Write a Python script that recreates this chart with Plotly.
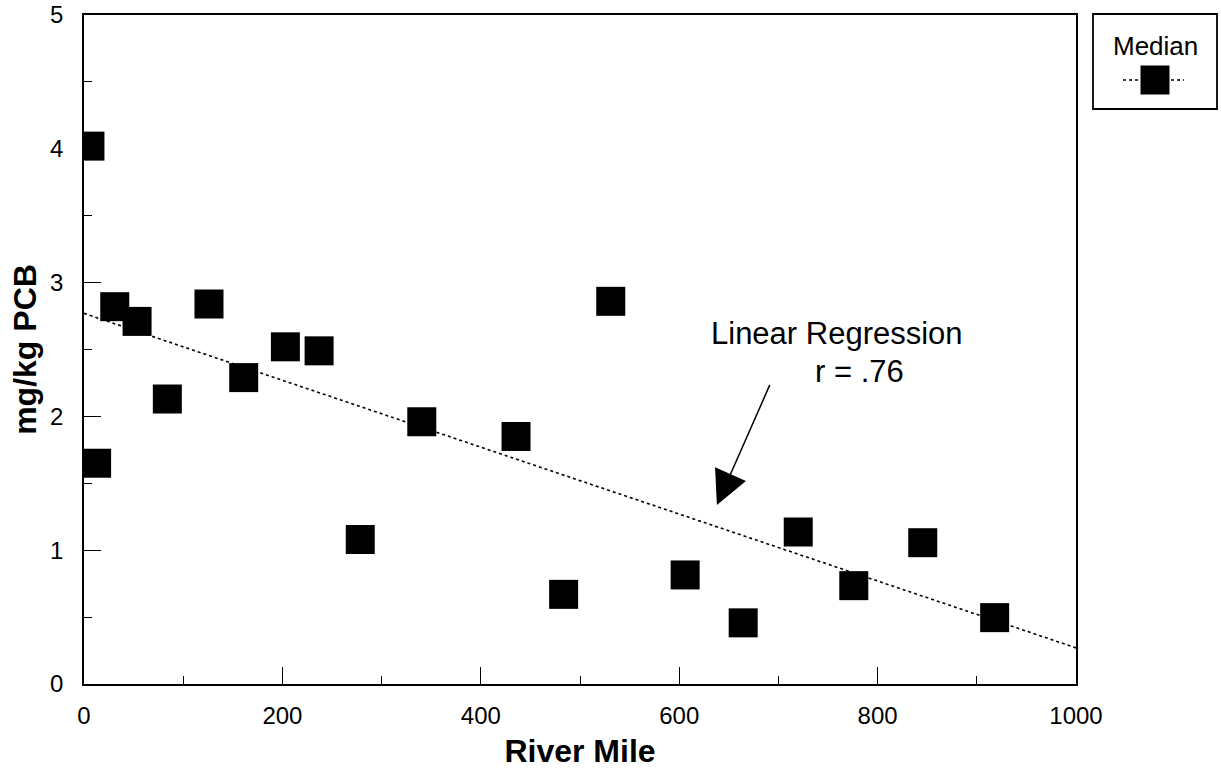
import plotly.graph_objects as go

# Median PCB concentration by river mile
river_mile = [6, 12.7, 31, 53.5, 84, 126, 161, 203, 237, 278.5, 340.5, 435.5,
              483.5, 531, 606, 664.5, 720, 776, 845.5, 918]
median_pcb = [4.02, 1.65, 2.82, 2.71, 2.13, 2.84, 2.29, 2.52, 2.49, 1.08, 1.96, 1.85,
              0.67, 2.86, 0.815, 0.457, 1.136, 0.735, 1.056, 0.496]

# Regression line end points
reg_x = [0, 1000]
reg_y = [2.77, 0.27]

x_ticks = [0, 200, 400, 600, 800, 1000]
y_ticks = [0, 1, 2, 3, 4, 5]

FONT = "Arial, Liberation Sans, sans-serif"

fig = go.Figure()
fig.add_trace(go.Scatter(
    x=reg_x, y=reg_y, mode="lines",
    line=dict(color="black", width=1.6, dash="dot"),
    showlegend=False, hoverinfo="skip",
))
fig.add_trace(go.Scatter(
    x=river_mile, y=median_pcb, mode="markers", name="Median",
    marker=dict(symbol="square", size=29, color="black", line=dict(width=0)),
    showlegend=False,
))

axis_common = dict(
    showgrid=False, zeroline=False, showline=True, linecolor="black",
    linewidth=1.8, mirror=True, ticks="inside", ticklen=17, tickwidth=1.2,
    tickcolor="black", tickfont=dict(family=FONT, size=24, color="black"),
)

fig.update_xaxes(
    range=[0, 1000], tickvals=x_ticks, ticktext=[str(v) for v in x_ticks],
    minor=dict(ticks="inside", ticklen=8, dtick=100, tickwidth=1.2, tickcolor="black"),
    title=dict(text="<b>River Mile</b>", font=dict(family=FONT, size=32, color="black"),
               standoff=12),
    ticklabelstandoff=9,
    **axis_common,
)
fig.update_yaxes(
    range=[0, 5], tickvals=y_ticks, ticktext=[str(v) for v in y_ticks],
    minor=dict(ticks="inside", ticklen=8, dtick=0.5, tickwidth=1.2, tickcolor="black"),
    title=dict(text="<b>mg/kg PCB</b>", font=dict(family=FONT, size=32, color="black"),
               standoff=4),
    ticklabelstandoff=14,
    **axis_common,
)

# Annotation: regression label and arrow
fig.add_annotation(x=759, y=2.623, xref="x", yref="y", text="Linear Regression",
                   showarrow=False, font=dict(family=FONT, size=31, color="black"))
fig.add_annotation(x=782, y=2.332, xref="x", yref="y", text="r = .76",
                   showarrow=False, font=dict(family=FONT, size=31, color="black"))
fig.add_annotation(x=638, y=1.338, ax=692, ay=2.247, xref="x", yref="y",
                   axref="x", ayref="y", text="", showarrow=True,
                   arrowhead=2, arrowsize=4.5, arrowwidth=1.5, arrowcolor="black")

# Manual legend box
L, R_ = 84, 1076
T, B = 15, 684
W, H = R_ - L, B - T
def px(xp):
    return (xp - L) / W
def py(yp):
    return (B - yp) / H

fig.add_shape(type="rect", xref="paper", yref="paper",
              x0=px(1093), x1=px(1217), y0=py(109), y1=py(14),
              line=dict(color="black", width=1.8), fillcolor="white")
fig.add_shape(type="line", xref="paper", yref="paper",
              x0=px(1123), x1=px(1184), y0=py(80), y1=py(80),
              line=dict(color="black", width=1.6, dash="dot"))
fig.add_shape(type="rect", xref="paper", yref="paper",
              x0=px(1140.5), x1=px(1169.5), y0=py(94.5), y1=py(65.5),
              line=dict(width=0), fillcolor="black")
fig.add_annotation(xref="paper", yref="paper", x=px(1155), y=py(46), text="Median",
                   xanchor="center", yanchor="middle",
                   showarrow=False, font=dict(family=FONT, size=26, color="black"))

fig.update_layout(
    width=1221, height=770,
    margin=dict(l=L, r=1221 - R_, t=T, b=770 - B, autoexpand=False),
    paper_bgcolor="white", plot_bgcolor="white",
    showlegend=False,
)

fig.write_html("out.html", config={"displayModeBar": False},
               post_script="document.body.style.margin='0';document.body.style.overflow='hidden';")
